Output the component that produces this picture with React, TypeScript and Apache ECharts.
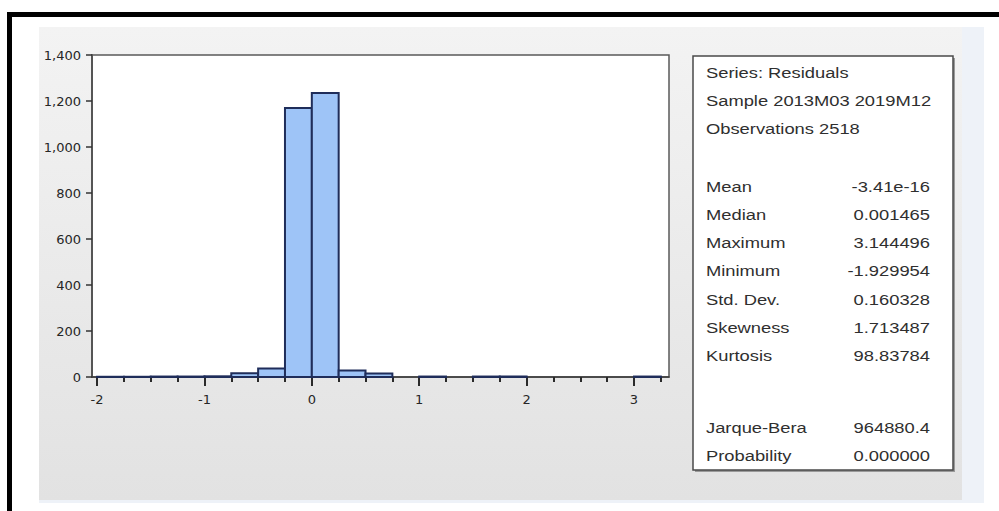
import React, { useEffect, useRef } from "react";
import * as echarts from "echarts";

// Histogram of residuals (bin start, bin width 0.25, counts)
const binStarts = [-2, -1.75, -1.5, -1.25, -1, -0.75, -0.5, -0.25, 0, 0.25, 0.5, 0.75, 1, 1.25, 1.5, 1.75, 2, 2.25, 2.5, 2.75, 3];
const binWidth = 0.25;
const counts = [1, 1, 2, 2, 3, 16, 37, 1170, 1235, 28, 15, 0, 2, 0, 2, 2, 0, 0, 0, 0, 2];

const xMajorTicks = [-2, -1, 0, 1, 2, 3];
const xMinorTicks = binStarts.concat([3.25]);
const yMax = 1400;
const yStep = 200;

const headerLines = ["Series: Residuals", "Sample 2013M03 2019M12", "Observations 2518"];
const statLabels = ["Mean", "Median", "Maximum", "Minimum", "Std. Dev.", "Skewness", "Kurtosis"];
const statValues = ["-3.41e-16", "0.001465", "3.144496", "-1.929954", "0.160328", "1.713487", "98.83784"];
const testLabels = ["Jarque-Bera", "Probability"];
const testValues = ["964880.4", "0.000000"];

export default function App() {
  const ref = useRef<HTMLDivElement>(null);
  useEffect(() => {
    if (!ref.current) return;
    const chart = echarts.init(ref.current, undefined, { renderer: "svg" });
    const barData = binStarts
      .map((s, i) => [s, s + binWidth, counts[i]])
      .filter((d) => d[2] > 0);

    const textFont = "14px 'Liberation Sans', Arial, sans-serif";
    const txtFill = "#2f2f2f";
    const sx = 1.31;
    const labelX = 706;
    const valueX = 930;
    const texts: any[] = [];
    const headerY = [73, 101, 129];
    headerLines.forEach((t, i) =>
      texts.push({
        type: "text", x: labelX, y: headerY[i], scaleX: sx, z: 20,
        style: { text: t, font: textFont, fill: txtFill, textAlign: "left", textVerticalAlign: "middle" },
      })
    );
    statLabels.forEach((t, i) => {
      const y = 187 + i * 28.1;
      texts.push({
        type: "text", x: labelX, y, scaleX: sx, z: 20,
        style: { text: t, font: textFont, fill: txtFill, textAlign: "left", textVerticalAlign: "middle" },
      });
      texts.push({
        type: "text", x: valueX, y, scaleX: sx, z: 20,
        style: { text: statValues[i], font: textFont, fill: txtFill, textAlign: "right", textVerticalAlign: "middle" },
      });
    });
    testLabels.forEach((t, i) => {
      const y = 428 + i * 28;
      texts.push({
        type: "text", x: labelX, y, scaleX: sx, z: 20,
        style: { text: t, font: textFont, fill: txtFill, textAlign: "left", textVerticalAlign: "middle" },
      });
      texts.push({
        type: "text", x: valueX, y, scaleX: sx, z: 20,
        style: { text: testValues[i], font: textFont, fill: txtFill, textAlign: "right", textVerticalAlign: "middle" },
      });
    });

    const axisFont = { fontFamily: "DejaVu Sans", fontSize: 13, color: "#262626" };

    chart.setOption({
      animation: false,
      backgroundColor: "#ffffff",
      graphic: [
        // outer black frame (top and left)
        { type: "rect", z: -10, shape: { x: 7, y: 12, width: 992, height: 5 }, style: { fill: "#000" } },
        { type: "rect", z: -10, shape: { x: 7, y: 12, width: 5, height: 499 }, style: { fill: "#000" } },
        // light blue strip
        { type: "rect", z: -10, shape: { x: 39, y: 27, width: 945, height: 476 }, style: { fill: "#eef2f8" } },
        // gray panel
        {
          type: "rect", z: -9, shape: { x: 39, y: 27, width: 923, height: 473 },
          style: {
            fill: new echarts.graphic.LinearGradient(0, 0, 0, 1, [
              { offset: 0, color: "#f3f3f3" },
              { offset: 1, color: "#e2e2e2" },
            ]),
          },
        },
        // stats box shadow + box
        { type: "rect", z: 5, shape: { x: 695, y: 58, width: 260, height: 414 }, style: { fill: "#9a9a9a" } },
        { type: "rect", z: 6, shape: { x: 693, y: 56, width: 260, height: 414 }, style: { fill: "#ffffff", stroke: "#4a4a4a", lineWidth: 1.5 } },
        ...texts,
      ],
      grid: {
        left: 92, top: 55, width: 577, height: 322,
        show: true, backgroundColor: "#ffffff", borderColor: "#5a5a5a", borderWidth: 1.5,
      },
      xAxis: [
        {
          type: "value", min: -2.047, max: 3.326, position: "bottom",
          axisLine: { show: true, onZero: false, lineStyle: { color: "#3a3a3a", width: 1.5 } },
          axisTick: { show: true, customValues: xMajorTicks, length: 9, lineStyle: { color: "#2a2a2a", width: 2 } },
          axisLabel: { show: true, customValues: xMajorTicks, margin: 16, ...axisFont, formatter: (v: number) => String(v) },
          splitLine: { show: false },
        },
        {
          type: "value", min: -2.047, max: 3.326, position: "bottom",
          axisLine: { show: false, onZero: false },
          axisTick: { show: true, customValues: xMinorTicks, length: 5, lineStyle: { color: "#2a2a2a", width: 2 } },
          axisLabel: { show: false },
          splitLine: { show: false },
        },
      ],
      yAxis: {
        type: "value", min: 0, max: yMax, interval: yStep, position: "left",
        axisLine: { show: true, onZero: false, lineStyle: { color: "#555", width: 2 } },
        axisTick: { show: true, length: 6, lineStyle: { color: "#333", width: 1.5 } },
        axisLabel: { margin: 11, ...axisFont, formatter: (v: number) => v.toLocaleString("en-US") },
        splitLine: { show: false },
      },
      series: [
        {
          type: "custom",
          xAxisIndex: 0,
          yAxisIndex: 0,
          data: barData,
          encode: { x: [0, 1], y: 2 },
          renderItem: (params: any, api: any) => {
            const p0 = api.coord([api.value(0), api.value(2)]);
            const p1 = api.coord([api.value(1), 0]);
            return {
              type: "rect",
              shape: { x: p0[0], y: p0[1], width: p1[0] - p0[0], height: p1[1] - p0[1] },
              style: { fill: "#9ec4f7", stroke: "#1f2d5a", lineWidth: 2 },
            };
          },
        },
      ],
    });
    return () => chart.dispose();
  }, []);
  return <div ref={ref} style={{ position: "fixed", left: 0, top: 0, width: 999, height: 511 }} />;
}
